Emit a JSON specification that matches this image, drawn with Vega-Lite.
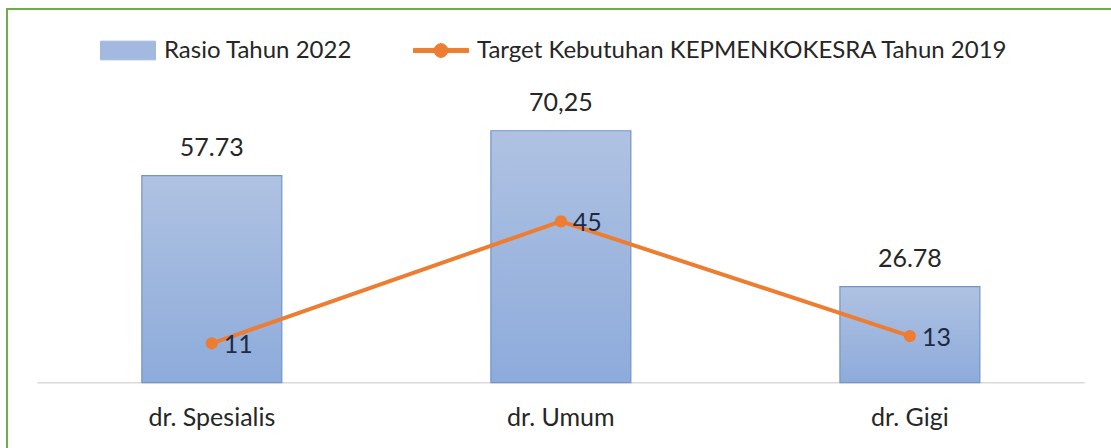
{
  "$schema": "https://vega.github.io/schema/vega-lite/v6.json",
  "width": 1104,
  "height": 439,
  "autosize": {"type": "none"},
  "padding": {"left": 7, "top": 9, "right": 0, "bottom": 0},
  "background": "white",
  "config": {
    "view": {"stroke": "#70ad47", "strokeWidth": 2, "strokeDash": [1104, 1543, 439]},
    "font": "Lato"
  },
  "data": {
    "values": [
      {"cat": "dr. Spesialis", "rasio": 57.73, "rlabel": "57.73", "target": 11, "tlabel": "11", "series": "Target Kebutuhan KEPMENKOKESRA Tahun 2019"},
      {"cat": "dr. Umum", "rasio": 70.25, "rlabel": "70,25", "target": 45, "tlabel": "45", "series": "Target Kebutuhan KEPMENKOKESRA Tahun 2019"},
      {"cat": "dr. Gigi", "rasio": 26.78, "rlabel": "26.78", "target": 13, "tlabel": "13", "series": "Target Kebutuhan KEPMENKOKESRA Tahun 2019"}
    ]
  },
  "encoding": {
    "x": {
      "field": "cat", "type": "nominal", "sort": null,
      "scale": {"domain": ["dr. Spesialis", "dr. Umum", "dr. Gigi"], "paddingInner": 0.599, "paddingOuter": 0.381, "align": 0.507},
      "axis": {"title": null, "domain": false, "ticks": false, "grid": false, "labelAngle": 0, "labelFont": "Lato", "labelFontSize": 25, "labelColor": "#262626", "labelPadding": 23, "offset": -66}
    }
  },
  "layer": [
    {
      "data": {"values": [{"a": 1}]},
      "mark": {"type": "rule", "color": "#d9d9d9", "strokeWidth": 1.5},
      "encoding": {
        "x": {"datum": "dr. Spesialis", "bandPosition": -0.746},
        "x2": {"datum": "dr. Gigi", "bandPosition": 1.748},
        "y": {"datum": 0, "type": "quantitative", "scale": {"domain": [-18.2, 104.2], "nice": false, "zero": false}, "axis": null}
      }
    },
    {
      "mark": {
        "type": "bar",
        "color": {"gradient": "linear", "x1": 0, "y1": 0, "x2": 0, "y2": 1, "stops": [{"offset": 0, "color": "#afc2e2"}, {"offset": 1, "color": "#8dabdb"}]},
        "stroke": "#7394c9",
        "strokeWidth": 1.2
      },
      "encoding": {
        "y": {"field": "rasio", "type": "quantitative", "scale": {"domain": [-18.2, 104.2], "nice": false, "zero": false}, "axis": null}
      }
    },
    {
      "mark": {"type": "text", "dy": -20, "baseline": "alphabetic", "fontSize": 25, "color": "#262626"},
      "encoding": {
        "y": {"field": "rasio", "type": "quantitative"},
        "text": {"field": "rlabel"}
      }
    },
    {
      "mark": {"type": "line", "strokeWidth": 4},
      "encoding": {
        "y": {"field": "target", "type": "quantitative"},
        "color": {
          "field": "series", "type": "nominal",
          "scale": {"domain": ["Rasio Tahun 2022", "Target Kebutuhan KEPMENKOKESRA Tahun 2019"], "range": ["#a3b9df", "#ed7d31"]},
          "legend": {
            "title": null,
            "orient": "none",
            "legendX": 93,
            "legendY": 13.5,
            "direction": "horizontal",
            "padding": 0,
            "symbolSize": 3025,
            "labelFont": "Lato",
            "labelFontSize": 24,
            "labelColor": "#262626",
            "labelOffset": 8,
            "columnPadding": 58,
            "labelLimit": 800,
            "encode": {
              "symbols": {
                "update": {
                  "shape": {"signal": "datum.value == 'Rasio Tahun 2022' ? 'M-1,-0.34H1V0.34H-1Z' : 'M-1,-0.075H1V0.075H-1ZM-0.25,0A0.25,0.25 0 1,1 0.25,0A0.25,0.25 0 1,1 -0.25,0Z'"},
                  "fill": {"signal": "datum.value == 'Rasio Tahun 2022' ? '#a3b9df' : '#ed7d31'"},
                  "stroke": {"signal": "datum.value == 'Rasio Tahun 2022' ? '#7394c9' : 'transparent'"},
                  "strokeWidth": {"value": 1},
                  "opacity": {"value": 1},
                  "fillOpacity": {"value": 1}
                }
              }
            }
          }
        }
      }
    },
    {
      "mark": {"type": "point", "filled": true, "size": 150, "opacity": 1},
      "encoding": {
        "y": {"field": "target", "type": "quantitative"},
        "color": {"field": "series", "type": "nominal"}
      }
    },
    {
      "mark": {"type": "text", "align": "left", "baseline": "middle", "dx": 12, "dy": 2, "fontSize": 25, "color": "#1f2a44"},
      "encoding": {
        "y": {"field": "target", "type": "quantitative"},
        "text": {"field": "tlabel"}
      }
    }
  ]
}
